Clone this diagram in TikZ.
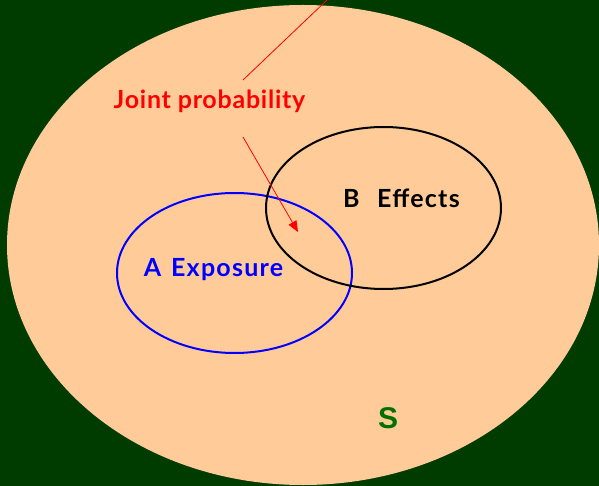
\documentclass[tikz,border=0pt]{standalone}
\usepackage{fontspec}
\setmainfont{Lato}
\newfontfamily\lblfont[LetterSpace=3]{Lato}
\newfontfamily\widefont[LetterSpace=5]{Lato}
\newfontfamily\sfont{Liberation Sans}
\definecolor{bggreen}{HTML}{003C00}
\definecolor{peach}{HTML}{FFCC99}
\definecolor{sgreen}{HTML}{007000}
\usetikzlibrary{arrows.meta}
\tikzset{
  lbl/.style={font=\lblfont\fontsize{25}{28}\selectfont\bfseries, inner sep=0pt},
  widelbl/.style={font=\widefont\fontsize{25}{28}\selectfont\bfseries, inner sep=0pt},
  setA/.style={draw=blue, line width=2pt},
  setB/.style={draw=black, line width=2pt},
  ptr/.style={draw=red, line width=0.8pt},
}
\begin{document}
\begin{tikzpicture}[x=1pt,y=-1pt]
\fill[bggreen] (0,0) rectangle (599,486);
\useasboundingbox (0,0) rectangle (599,486);
\fill[peach] (303,245) ellipse [x radius=296, y radius=240];
\draw[setA] (234.5,273) ellipse [x radius=117.5, y radius=80];
\draw[setB] (383.5,208) ellipse [x radius=117.5, y radius=81];
\node[lbl, text=red] (jp) at (209.5,101) {Joint probability};
\node[widelbl, text=black] (be) at (401.5,198) {B\hspace{0.7em}Effects};
\node[widelbl, text=blue] (ae) at (213.5,270) {A\hspace{0.4em}Exposure};
\node[inner sep=0pt, text=sgreen, font=\sfont\fontsize{30}{32}\selectfont\bfseries] (s) at (388,418) {S};
\coordinate (top) at (327,0);
\coordinate (lineend) at (243,80);
\coordinate (arrstart) at (243,137);
\coordinate (arrtip) at (298,232);
\draw[ptr] (top) -- (lineend);
\draw[ptr, -{Triangle[length=11pt,width=9pt]}] (arrstart) -- (arrtip);
\end{tikzpicture}
\end{document}
